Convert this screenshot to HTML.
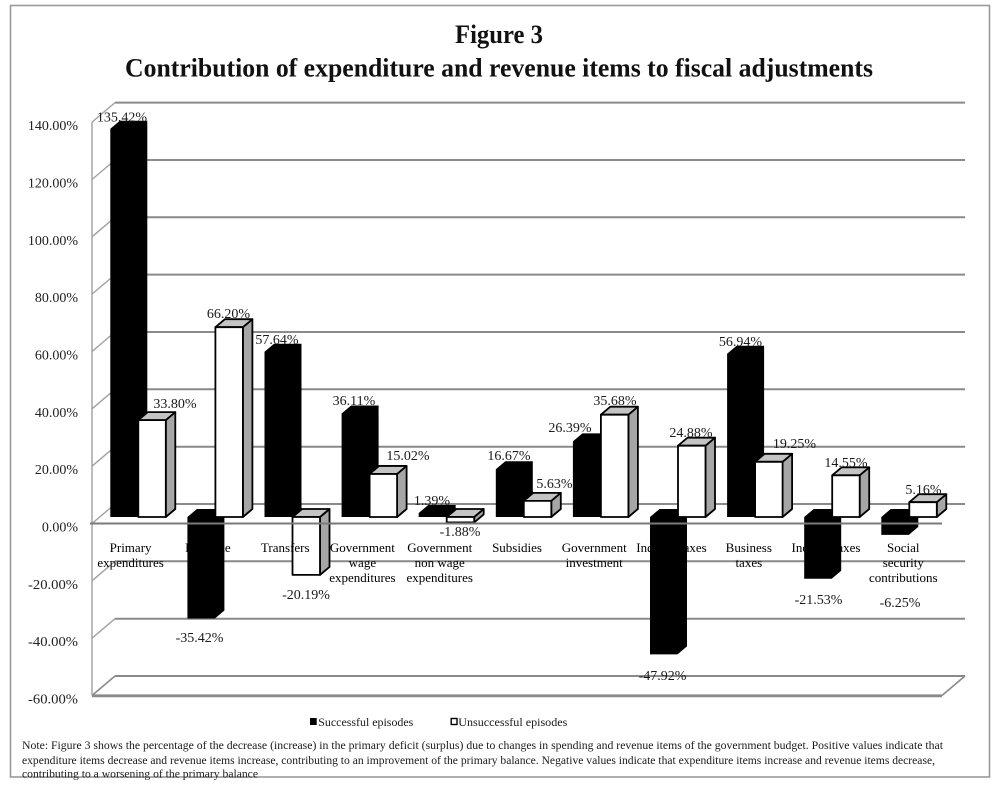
<!DOCTYPE html>
<html>
<head>
<meta charset="utf-8">
<style>
html,body{margin:0;padding:0;background:#fff;}
svg{display:block;}
text{font-family:"Liberation Serif","Times New Roman",serif;}
</style>
</head>
<body>
<svg width="1000" height="786" viewBox="0 0 1000 786" xmlns="http://www.w3.org/2000/svg">
<rect x="0" y="0" width="1000" height="786" fill="#fff"/>
<!-- outer border -->
<rect x="10.5" y="5.5" width="979" height="771.5" fill="none" stroke="#9a9a9a" stroke-width="1.6"/>

<!-- title -->
<text x="455" y="43" font-size="26" font-weight="bold" textLength="88" lengthAdjust="spacingAndGlyphs" fill="#111">Figure 3</text>
<text x="125" y="76.5" font-size="26" font-weight="bold" textLength="748" lengthAdjust="spacingAndGlyphs" fill="#111">Contribution of expenditure and revenue items to fiscal adjustments</text>

<!-- back wall gridlines -->
<g stroke="#8a8a8a" stroke-width="2" fill="none">
<line x1="115" y1="102.6" x2="965" y2="102.6"/>
<line x1="115" y1="160" x2="965" y2="160"/>
<line x1="115" y1="217.3" x2="965" y2="217.3"/>
<line x1="115" y1="274.6" x2="965" y2="274.6"/>
<line x1="115" y1="332" x2="965" y2="332"/>
<line x1="115" y1="389.3" x2="965" y2="389.3"/>
<line x1="115" y1="446.7" x2="965" y2="446.7"/>
<line x1="115" y1="504" x2="965" y2="504"/>
<line x1="115" y1="561.3" x2="965" y2="561.3"/>
<line x1="115" y1="618.7" x2="965" y2="618.7"/>
</g>
<!-- left wall -->
<g stroke="#a0a0a0" stroke-width="1.4" fill="none">
<line x1="92" y1="122.1" x2="92" y2="695.5"/>
<line x1="92" y1="122.1" x2="115" y2="102.6"/>
<line x1="92" y1="179.5" x2="115" y2="160"/>
<line x1="92" y1="236.8" x2="115" y2="217.3"/>
<line x1="92" y1="294.1" x2="115" y2="274.6"/>
<line x1="92" y1="351.5" x2="115" y2="332"/>
<line x1="92" y1="408.8" x2="115" y2="389.3"/>
<line x1="92" y1="466.2" x2="115" y2="446.7"/>
<line x1="92" y1="523.5" x2="115" y2="504"/>
<line x1="92" y1="580.8" x2="115" y2="561.3"/>
<line x1="92" y1="638.2" x2="115" y2="618.7"/>
</g>
<!-- bottom floor slab -->
<g stroke="#8a8a8a" fill="none">
<line x1="115" y1="676" x2="965" y2="676" stroke-width="2"/>
<line x1="92" y1="695.5" x2="115" y2="676" stroke-width="1.6"/>
<line x1="942" y1="695.5" x2="965" y2="676" stroke-width="1.6"/>
<line x1="92" y1="695.8" x2="942" y2="695.8" stroke-width="2.8"/>
</g>

<!-- y axis labels -->
<g font-size="14" text-anchor="end" fill="#222">
<text x="78" y="130">140.00%</text>
<text x="78" y="187.5">120.00%</text>
<text x="78" y="244.8">100.00%</text>
<text x="78" y="302">80.00%</text>
<text x="78" y="359.5">60.00%</text>
<text x="78" y="416.8">40.00%</text>
<text x="78" y="474">20.00%</text>
<text x="78" y="531.5">0.00%</text>
</g>
<g font-size="14" fill="#222">
<text x="28" y="588.8" textLength="50" lengthAdjust="spacingAndGlyphs">-20.00%</text>
<text x="28" y="646" textLength="50" lengthAdjust="spacingAndGlyphs">-40.00%</text>
<text x="28" y="703.5" textLength="50" lengthAdjust="spacingAndGlyphs">-60.00%</text>
</g>

<!-- bars -->
<g id="bars">
<!-- i0 -->
<polygon fill="#000" points="110.3,517 110.3,128.75 119.8,120.75 147.3,120.75 147.3,509 137.8,517"/>
<g stroke="#000" stroke-width="1.8" stroke-linejoin="round">
<polygon fill="#a6a6a6" points="165.8,420.1 175.3,412.1 175.3,509 165.8,517"/>
<polygon fill="#c4c4c4" points="138.3,420.1 147.8,412.1 175.3,412.1 165.8,420.1"/>
<rect fill="#fff" x="138.3" y="420.1" width="27.5" height="96.9"/>
</g>
<!-- i1 -->
<polygon fill="#000" points="187.4,517 196.9,509 224.4,509 224.4,610.55 214.9,618.55 187.4,618.55"/>
<g stroke="#000" stroke-width="1.8" stroke-linejoin="round">
<polygon fill="#a6a6a6" points="242.9,327.2 252.4,319.2 252.4,509 242.9,517"/>
<polygon fill="#c4c4c4" points="215.4,327.2 224.9,319.2 252.4,319.2 242.9,327.2"/>
<rect fill="#fff" x="215.4" y="327.2" width="27.5" height="189.8"/>
</g>
<!-- i2 -->
<polygon fill="#000" points="264.5,517 264.5,351.75 274,343.75 301.5,343.75 301.5,509 292,517"/>
<g stroke="#000" stroke-width="1.8" stroke-linejoin="round">
<polygon fill="#a6a6a6" points="320,517 329.5,509 329.5,566.88 320,574.88"/>
<polygon fill="#c4c4c4" points="292.5,517 302,509 329.5,509 320,517"/>
<rect fill="#fff" x="292.5" y="517" width="27.5" height="57.88"/>
</g>
<!-- i3 -->
<polygon fill="#000" points="341.6,517 341.6,413.47 351.1,405.47 378.6,405.47 378.6,509 369.1,517"/>
<g stroke="#000" stroke-width="1.8" stroke-linejoin="round">
<polygon fill="#a6a6a6" points="397.1,473.94 406.6,465.94 406.6,509 397.1,517"/>
<polygon fill="#c4c4c4" points="369.6,473.94 379.1,465.94 406.6,465.94 397.1,473.94"/>
<rect fill="#fff" x="369.6" y="473.94" width="27.5" height="43.06"/>
</g>
<!-- i4 -->
<polygon fill="#000" points="418.7,517 418.7,513.01 428.2,505.01 455.7,505.01 455.7,509 446.2,517"/>
<g stroke="#000" stroke-width="1.8" stroke-linejoin="round">
<polygon fill="#a6a6a6" points="474.2,517 483.7,509 483.7,514.39 474.2,522.39"/>
<polygon fill="#c4c4c4" points="446.7,517 456.2,509 483.7,509 474.2,517"/>
<rect fill="#fff" x="446.7" y="517" width="27.5" height="5.39"/>
</g>
<!-- i5 -->
<polygon fill="#000" points="495.8,517 495.8,469.21 505.3,461.21 532.8,461.21 532.8,509 523.3,517"/>
<g stroke="#000" stroke-width="1.8" stroke-linejoin="round">
<polygon fill="#a6a6a6" points="551.3,500.86 560.8,492.86 560.8,509 551.3,517"/>
<polygon fill="#c4c4c4" points="523.8,500.86 533.3,492.86 560.8,492.86 551.3,500.86"/>
<rect fill="#fff" x="523.8" y="500.86" width="27.5" height="16.14"/>
</g>
<!-- i6 -->
<polygon fill="#000" points="572.9,517 572.9,441.34 582.4,433.34 609.9,433.34 609.9,509 600.4,517"/>
<g stroke="#000" stroke-width="1.8" stroke-linejoin="round">
<polygon fill="#a6a6a6" points="628.4,414.71 637.9,406.71 637.9,509 628.4,517"/>
<polygon fill="#c4c4c4" points="600.9,414.71 610.4,406.71 637.9,406.71 628.4,414.71"/>
<rect fill="#fff" x="600.9" y="414.71" width="27.5" height="102.29"/>
</g>
<!-- i7 -->
<polygon fill="#000" points="650,517 659.5,509 687,509 687,646.39 677.5,654.39 650,654.39"/>
<g stroke="#000" stroke-width="1.8" stroke-linejoin="round">
<polygon fill="#a6a6a6" points="705.5,445.67 715,437.67 715,509 705.5,517"/>
<polygon fill="#c4c4c4" points="678,445.67 687.5,437.67 715,437.67 705.5,445.67"/>
<rect fill="#fff" x="678" y="445.67" width="27.5" height="71.33"/>
</g>
<!-- i8 -->
<polygon fill="#000" points="727.1,517 727.1,353.75 736.6,345.75 764.1,345.75 764.1,509 754.6,517"/>
<g stroke="#000" stroke-width="1.8" stroke-linejoin="round">
<polygon fill="#a6a6a6" points="782.6,461.81 792.1,453.81 792.1,509 782.6,517"/>
<polygon fill="#c4c4c4" points="755.1,461.81 764.6,453.81 792.1,453.81 782.6,461.81"/>
<rect fill="#fff" x="755.1" y="461.81" width="27.5" height="55.19"/>
</g>
<!-- i9 -->
<polygon fill="#000" points="804.2,517 813.7,509 841.2,509 841.2,570.73 831.7,578.73 804.2,578.73"/>
<g stroke="#000" stroke-width="1.8" stroke-linejoin="round">
<polygon fill="#a6a6a6" points="859.7,475.29 869.2,467.29 869.2,509 859.7,517"/>
<polygon fill="#c4c4c4" points="832.2,475.29 841.7,467.29 869.2,467.29 859.7,475.29"/>
<rect fill="#fff" x="832.2" y="475.29" width="27.5" height="41.71"/>
</g>
<!-- i10 -->
<polygon fill="#000" points="881.3,517 890.8,509 918.3,509 918.3,526.92 908.8,534.92 881.3,534.92"/>
<g stroke="#000" stroke-width="1.8" stroke-linejoin="round">
<polygon fill="#a6a6a6" points="936.8,502.21 946.3,494.21 946.3,509 936.8,517"/>
<polygon fill="#c4c4c4" points="909.3,502.21 918.8,494.21 946.3,494.21 936.8,502.21"/>
<rect fill="#fff" x="909.3" y="502.21" width="27.5" height="14.79"/>
</g>
</g>

<!-- floor front edge at 0 -->
<line x1="90" y1="523.5" x2="942" y2="523.5" stroke="#7a7a7a" stroke-width="2"/>

<!-- category labels (pure black: invisible where over black bars) -->
<g font-size="13" text-anchor="middle" fill="#000">
<text x="130.6" y="552">Primary</text><text x="130.6" y="567">expenditures</text>
<text x="207.9" y="552">Revenue</text>
<text x="285.2" y="552">Transfers</text>
<text x="362.4" y="552">Government</text><text x="362.4" y="567">wage</text><text x="362.4" y="582">expenditures</text>
<text x="439.7" y="552">Government</text><text x="439.7" y="567">non wage</text><text x="439.7" y="582">expenditures</text>
<text x="517" y="552">Subsidies</text>
<text x="594.2" y="552">Government</text><text x="594.2" y="567">investment</text>
<text x="671.5" y="552">Indirect taxes</text>
<text x="748.8" y="552">Business</text><text x="748.8" y="567">taxes</text>
<text x="826" y="552">Income taxes</text>
<text x="903.3" y="552">Social</text><text x="903.3" y="567">security</text><text x="903.3" y="582">contributions</text>
</g>

<!-- data labels -->
<g font-size="14" text-anchor="middle" fill="#1a1a1a">
<text x="122" y="121.7">135.42%</text>
<text x="199.5" y="642">-35.42%</text>
<text x="277" y="344">57.64%</text>
<text x="354" y="405">36.11%</text>
<text x="432" y="505">1.39%</text>
<text x="509" y="460">16.67%</text>
<text x="570" y="432">26.39%</text>
<text x="662.5" y="680">-47.92%</text>
<text x="740.5" y="346">56.94%</text>
<text x="818.5" y="604">-21.53%</text>
<text x="900" y="607">-6.25%</text>
<text x="175" y="408">33.80%</text>
<text x="228.5" y="318">66.20%</text>
<text x="306" y="599">-20.19%</text>
<text x="408" y="460">15.02%</text>
<text x="460" y="536">-1.88%</text>
<text x="554.5" y="488">5.63%</text>
<text x="615" y="405">35.68%</text>
<text x="691" y="437">24.88%</text>
<text x="794.5" y="448">19.25%</text>
<text x="846" y="467">14.55%</text>
<text x="923.5" y="494">5.16%</text>
</g>

<!-- legend -->
<rect x="310" y="718" width="6.7" height="7" fill="#000"/>
<text x="318.3" y="726" font-size="12" fill="#1a1a1a" textLength="95" lengthAdjust="spacingAndGlyphs">Successful episodes</text>
<rect x="451.2" y="718.5" width="5.8" height="6" fill="#fff" stroke="#000" stroke-width="1.4"/>
<text x="458.3" y="726" font-size="12" fill="#1a1a1a" textLength="109" lengthAdjust="spacingAndGlyphs">Unsuccessful episodes</text>

<!-- note -->
<g font-size="12" fill="#1a1a1a" style="white-space:pre">
<text x="22" y="749" textLength="921" lengthAdjust="spacingAndGlyphs">Note: Figure 3 shows the percentage of the  decrease (increase) in  the primary deficit  (surplus) due to  changes in  spending and revenue items of the  government budget. Positive values indicate  that</text>
<text x="22" y="764" textLength="913" lengthAdjust="spacingAndGlyphs">expenditure items  decrease and revenue  items increase, contributing to an improvement of the primary balance. Negative values indicate that  expenditure items increase and revenue items decrease,</text>
<text x="22" y="777.5" textLength="236" lengthAdjust="spacingAndGlyphs">contributing to a worsening of the  primary balance</text>
</g>
</svg>
</body>
</html>
